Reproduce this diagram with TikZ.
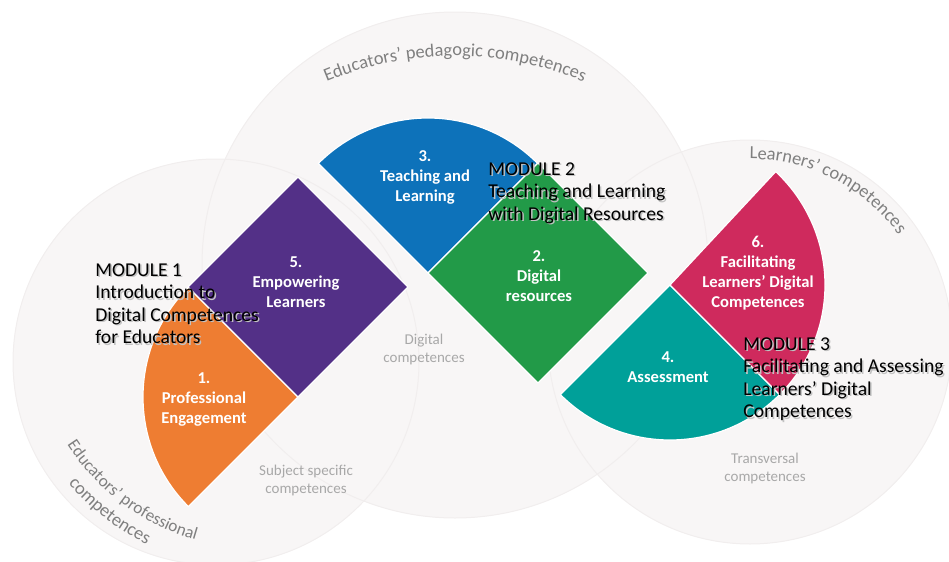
\documentclass[tikz,border=0pt]{standalone}
\usepackage{fontspec}
\setmainfont{Carlito}
\usepackage{xcolor}
\usepackage{tikz}
\usetikzlibrary{positioning}
\usetikzlibrary{calc}
\usetikzlibrary{decorations.text}

\definecolor{EngageOrange}{HTML}{EE7D32}
\definecolor{EmpowerPurple}{HTML}{533087}
\definecolor{TeachBlue}{HTML}{0D72BA}
\definecolor{ResourceGreen}{HTML}{229A48}
\definecolor{AssessTeal}{HTML}{00A099}
\definecolor{FacilPink}{HTML}{CF2A5D}
\definecolor{CircleFill}{HTML}{F8F6F6}
\definecolor{CircleEdge}{HTML}{F1EEEE}
\definecolor{ArcGrey}{HTML}{7F7F7F}
\definecolor{InnerGrey}{HTML}{A8A8A8}

\newcommand{\arcfont}{\fontsize{9.2}{11}\selectfont\color{ArcGrey}}
\newcommand{\arcfontsmall}{\fontsize{8.6}{11}\selectfont\color{ArcGrey}}

\tikzset{
	bigcircle/.style={fill=CircleFill},
	circleedge/.style={draw=CircleEdge, line width=0.5pt},
	segment/.style={draw=white, line width=0.6pt, line join=round},
	unitlabel/.style={font=\bfseries\fontsize{8.3}{10}\selectfont, text=white, align=center, inner sep=0pt},
	innerlabel/.style={font=\fontsize{7.5}{9}\selectfont, text=InnerGrey, align=center, inner sep=0pt},
	modtext/.style={font=\fontsize{9.8}{11.3}\selectfont, text=black, align=left, inner sep=0pt, anchor=north west},
	modshadow/.style={modtext, text=black!24},
	arclabel/.style={decorate, decoration={text along path, text align=center, text={|\arcfont|#1}}},
	arclabelsmall/.style={decorate, decoration={text along path, text align=center, text={|\arcfontsmall|#1}}},
}

\newcommand{\modulelabel}[3]{%
	\node[modshadow] (#1Shadow) at ($(#2)+(1.5,-1.5)$) {#3};
	\node[modtext] (#1) at (#2) {#3};}

\begin{document}
\begin{tikzpicture}[x=0.5pt,y=0.5pt]
	
	% ---------------------
	% Frame
	\useasboundingbox (0,0) rectangle (949,-562);
	\clip (0,0) rectangle (949,-562);
	
	% ---------------------
	% Competence circles
	\coordinate (ProfCentre) at (216,-362);
	\coordinate (PedaCentre) at (455,-265);
	\coordinate (LearnCentre) at (750,-342);
	
	\fill[bigcircle] (ProfCentre) circle[radius=203];
	\fill[bigcircle] (PedaCentre) circle[radius=253];
	\fill[bigcircle] (LearnCentre) circle[radius=202];
	\draw[circleedge] (ProfCentre) circle[radius=203];
	\draw[circleedge] (PedaCentre) circle[radius=253];
	\draw[circleedge] (LearnCentre) circle[radius=202];
	
	% ---------------------
	% Segment corners
	\coordinate (EmpowerCentre) at (298,-287);
	\path (EmpowerCentre) +(0,-110) coordinate (EngageCorner);
	\path (EmpowerCentre) +(130,14) coordinate (TeachCorner);
	\path (TeachCorner) +(110,0) coordinate (ResourceCentre);
	\path (ResourceCentre) +(132,-12) coordinate (AssessCorner);
	
	% ---------------------
	% Segments
	\path[segment, fill=EngageOrange] (EngageCorner) -- ++(135:155)
		arc[start angle=135, end angle=225, radius=155] -- cycle;
	\path[segment, fill=EmpowerPurple] (EmpowerCentre) ++(0,110)
		-- ++(110,-110) -- ++(-110,-110) -- ++(-110,110) -- cycle;
	
	\path[segment, fill=TeachBlue] (TeachCorner) -- ++(45:155)
		arc[start angle=45, end angle=135, radius=155] -- cycle;
	\path[segment, fill=ResourceGreen] (ResourceCentre) ++(0,110)
		-- ++(110,-110) -- ++(-110,-110) -- ++(-110,110) -- cycle;
	
	\path[segment, fill=AssessTeal] (AssessCorner) -- ++(225:155)
		arc[start angle=225, end angle=315, radius=155] -- cycle;
	\path[segment, fill=FacilPink] (AssessCorner) -- ++(-45:155)
		arc[start angle=-45, end angle=47, radius=155] -- cycle;
	
	% ---------------------
	% Segment labels
	\node[unitlabel] (Engage) at (204,-400) {1.\\Professional\\Engagement};
	\node[unitlabel] (Empower) at (296,-282) {5.\\Empowering\\Learners};
	\node[unitlabel] (Teach) at (425,-177) {3.\\Teaching and\\Learning};
	\node[unitlabel] (Resource) at (539,-276) {2.\\Digital\\resources};
	\node[unitlabel] (Assess) at (668,-367) {4.\\Assessment};
	\node[unitlabel] (Facil) at (758,-273) {6.\\Facilitating\\Learners’ Digital\\Competences};
	
	% ---------------------
	% Inner competences
	\node[innerlabel] (DigiComp) at (424,-349) {Digital\\competences};
	\node[innerlabel] (SubjComp) at (306,-480) {Subject specific\\competences};
	\node[innerlabel] (TransComp) at (765,-468) {Transversal\\competences};
	
	% ---------------------
	% Curved circle titles
	\coordinate (PedaArcCentre) at (455,-389);
	\coordinate (ProfArcCentre) at (259,-320);
	\path[arclabel={Educators’ pedagogic competences}] (PedaArcCentre) ++(125:333)
		arc[start angle=125, end angle=55, radius=333];
	\path[arclabel={Learners’ competences}] (LearnCentre) ++(108:183)
		arc[start angle=108, end angle=18, radius=183];
	\path[arclabelsmall={Educators’ professional}] (ProfArcCentre) ++(200:229)
		arc[start angle=200, end angle=267, radius=229];
	\path[arclabel={competences}] (ProfArcCentre) ++(199:251)
		arc[start angle=199, end angle=265, radius=251];
	
	% ---------------------
	% Modules
	\coordinate (ModOneSpot) at (95,-263);
	\coordinate (ModTwoSpot) at (488,-162);
	\coordinate (ModThreeSpot) at (743,-337);
	\modulelabel{ModOne}{ModOneSpot}{MODULE 1\\Introduction to\\Digital Competences\\for Educators}
	\modulelabel{ModTwo}{ModTwoSpot}{MODULE 2\\Teaching and Learning\\with Digital Resources}
	\modulelabel{ModThree}{ModThreeSpot}{MODULE 3\\Facilitating and Assessing\\Learners’ Digital\\Competences}
	
\end{tikzpicture}
\end{document}
